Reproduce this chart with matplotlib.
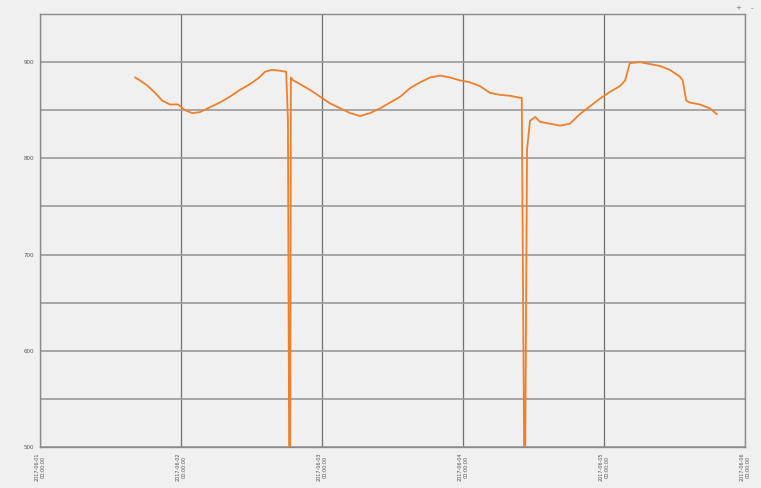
import numpy as np
import matplotlib
matplotlib.use("Agg")
import matplotlib.pyplot as plt

# hours since start (2017-06-01 00:00) and measured value
hours = [16.2, 17.0, 18.2, 19.6, 20.8, 22.1, 23.5, 24.7, 25.9, 27.2, 28.9, 30.6,
         32.3, 34.0, 35.7, 37.1, 38.3, 39.5, 40.9, 41.9, 42.2, 42.4, 42.6, 42.7,
         43.1, 44.3, 46.0, 47.7, 49.4, 51.1, 52.8, 54.5, 56.2, 57.9, 59.6, 61.3,
         63.0, 64.7, 66.4, 68.1, 69.8, 71.5, 73.2, 74.9, 76.6, 78.3, 80.0, 81.7,
         82.0, 82.4, 82.6, 82.9, 83.4, 84.3, 85.1, 86.8, 88.5, 90.2, 91.9, 93.6,
         95.3, 97.0, 98.7, 99.6, 100.4, 102.1, 103.8, 105.5, 107.2, 108.9, 109.4,
         110.0, 110.6, 112.3, 114.0, 115.2]
values = [884, 881, 876, 868, 860, 856, 856, 850, 847, 848, 853, 858,
          864, 871, 877, 883, 890, 892, 891, 890, 840, 500, 500, 884,
          881, 877, 871, 864, 857, 852, 847, 844, 847, 852, 858, 864,
          873, 879, 884, 886, 884, 881, 879, 875, 868, 866, 865, 863,
          863, 500, 500, 809, 839, 843, 838, 836, 834, 836, 846, 854,
          862, 869, 875, 881, 899, 900, 898, 896, 892, 885, 881,
          860, 858, 856, 852, 846]

x_ticks = [0, 24, 48, 72, 96, 120]
x_labels = ["2017-06-01\n00:00:00", "2017-06-02\n00:00:00", "2017-06-03\n00:00:00",
            "2017-06-04\n00:00:00", "2017-06-05\n00:00:00", "2017-06-06\n00:00:00"]
y_ticks = [500, 600, 700, 800, 900]

bg = "#f0f0f0"
fig = plt.figure(figsize=(7.61, 4.88), dpi=100, facecolor=bg)
ax = fig.add_axes([40 / 761, 1 - 447 / 488, 705 / 761, 433 / 488], facecolor=bg)

ax.plot(hours, values, color="#f07f2a", linewidth=1.3)

ax.set_xlim(0, 120)
ax.set_ylim(500, 950)

ax.set_xticks(x_ticks)
ax.set_xticklabels(x_labels, rotation=90, fontsize=3.5, color="#555555")
ax.set_yticks(y_ticks)
ax.set_yticklabels([str(v) for v in y_ticks], fontsize=4, color="#555555")
ax.set_yticks(np.arange(550, 950, 100), minor=True)

ax.grid(axis="x", color="#707070", linewidth=0.9)
ax.grid(axis="y", which="both", color="#9a9a9a", linewidth=1.2)
ax.set_axisbelow(True)
ax.tick_params(which="both", length=0, pad=4)

for side, sp in ax.spines.items():
    sp.set_color("#8a8a8a")
    sp.set_linewidth(1.0)

# small zoom buttons in the top right corner
fig.text(738 / 761, 1 - 8 / 488, "+", fontsize=5, color="#777777", ha="center", va="center")
fig.text(752 / 761, 1 - 8 / 488, "-", fontsize=5, color="#777777", ha="center", va="center")

fig.savefig("out.png", dpi=100, facecolor=bg)
